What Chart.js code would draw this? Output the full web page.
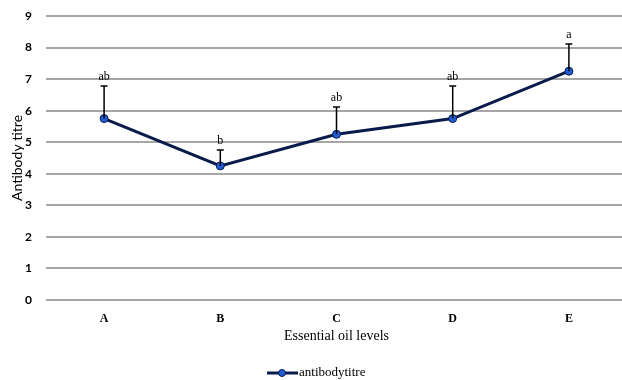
<!DOCTYPE html>
<html><head><meta charset="utf-8">
<script src="https://cdn.jsdelivr.net/npm/chart.js@4/dist/chart.umd.min.js"></script>
<style>html,body{margin:0;padding:0;background:#fff;overflow:hidden}#wrap{width:622px;height:380px;overflow:hidden}</style>
</head><body><div id="wrap"><canvas id="c" width="632" height="380" style="width:632px;height:380px"></canvas></div>
<script>
const categories = ['A','B','C','D','E'];
const titre = [5.75, 4.25, 5.25, 5.75, 7.25];
const errorTop = [6.78, 4.75, 6.12, 6.78, 8.11];
const letters = ['ab','b','ab','ab','a'];
const yTicks = [0,1,2,3,4,5,6,7,8,9];

const serif = '"Liberation Serif", "Times New Roman", serif';
const sans = 'Lato, "Liberation Sans", sans-serif';

const extras = {
  id: 'extras',
  afterDatasetsDraw(chart) {
    const ctx = chart.ctx, x = chart.scales.x, y = chart.scales.y;
    ctx.save();
    ctx.strokeStyle = '#000'; ctx.lineWidth = 1.5;
    titre.forEach((v, i) => {
      const px = x.getPixelForValue(i);
      const py0 = y.getPixelForValue(v), py1 = y.getPixelForValue(errorTop[i]);
      ctx.beginPath(); ctx.moveTo(px, py0); ctx.lineTo(px, py1);
      ctx.moveTo(px - 3.5, py1); ctx.lineTo(px + 3.5, py1); ctx.stroke();
      ctx.fillStyle = '#000'; ctx.font = '12px ' + serif;
      ctx.textAlign = 'center'; ctx.textBaseline = 'bottom';
      ctx.fillText(letters[i], px, py1 - 3);
    });
    // legend
    const ly = 373, lx = 267;
    ctx.strokeStyle = '#0a1a4a'; ctx.lineWidth = 3;
    ctx.beginPath(); ctx.moveTo(lx, ly); ctx.lineTo(lx + 31, ly); ctx.stroke();
    ctx.beginPath(); ctx.arc(lx + 15, ly, 3.5, 0, Math.PI * 2);
    ctx.fillStyle = '#1f5fd6'; ctx.fill(); ctx.lineWidth = 1; ctx.strokeStyle = '#0a1a4a'; ctx.stroke();
    ctx.fillStyle = '#000'; ctx.font = '13px ' + serif; ctx.textAlign = 'left'; ctx.textBaseline = 'middle';
    ctx.fillText('antibodytitre', lx + 32, ly);
    ctx.restore();
  }
};

new Chart(document.getElementById('c'), {
  type: 'line',
  data: {
    labels: categories,
    datasets: [{
      label: 'antibodytitre',
      data: titre,
      borderColor: '#0a1a4a',
      borderWidth: 3,
      pointRadius: 4,
      pointBackgroundColor: '#1f5fd6',
      pointBorderColor: '#0a1a4a',
      pointBorderWidth: 1,
      tension: 0
    }]
  },
  options: {
    responsive: false, maintainAspectRatio: false, animation: false,
    layout: { padding: { top: 16, right: 0, bottom: 35, left: 0 } },
    plugins: { legend: { display: false }, tooltip: { enabled: false } },
    scales: {
      x: {
        offset: true,
        grid: { display: false },
        border: { display: false },
        ticks: { color: '#000', font: { family: serif, size: 12, weight: 'bold' }, padding: 4 },
        title: { display: true, text: 'Essential oil levels', color: '#000', font: { family: serif, size: 14 }, padding: { top: 2, bottom: 0 } },
        afterFit(s) { s.height = 45; s.paddingLeft = 0; s.paddingRight = 0; }
      },
      y: {
        min: 0, max: 9,
        afterBuildTicks(s) { s.ticks = yTicks.map(v => ({ value: v })); },
        grid: { color: '#a6a6a6', lineWidth: 2, drawTicks: false },
        border: { display: false },
        ticks: { color: '#000', font: { family: sans, size: 12, weight: 'bold' }, padding: 14 },
        title: { display: true, text: 'Antibody titre', color: '#000', font: { family: sans, size: 14 }, padding: { top: 9, bottom: 0 } },
        afterFit(s) { s.width = 46; s.paddingTop = 0; s.paddingBottom = 0; }
      }
    }
  },
  plugins: [extras]
});
</script></body></html>
